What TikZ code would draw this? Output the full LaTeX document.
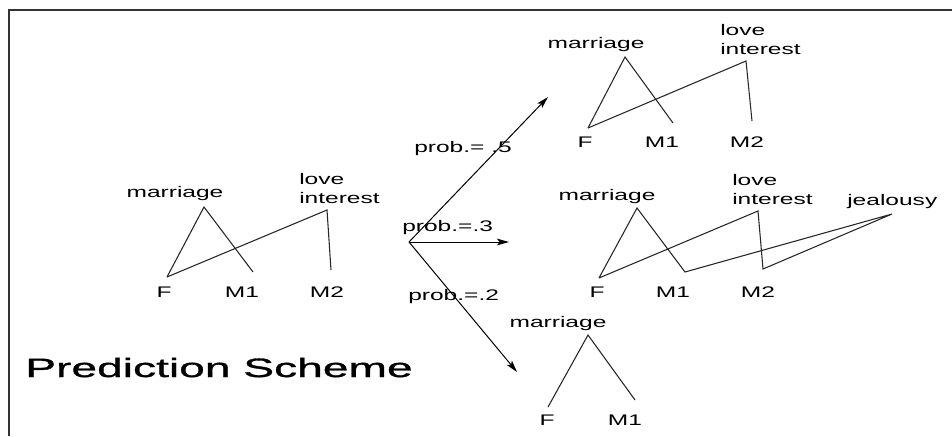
\documentclass[tikz,border=0pt]{standalone}
\usepackage{fontspec}
\newfontfamily\lblfont{Liberation Sans}[FakeStretch=1.6]
\newfontfamily\titlefont{Liberation Sans}[FakeStretch=1.74,FakeBold=1.2]
\usetikzlibrary{arrows.meta}
\tikzstyle{lbl} = [font=\lblfont\fontsize{11.5}{14}\selectfont, inner sep=0pt]
\tikzstyle{link} = [draw=black!85, line width=0.8pt]

\begin{document}
\begin{tikzpicture}[x=0.75pt,y=-0.75pt,
                    >={Stealth[length=9pt,width=5pt,inset=2pt]},prob/.style={->,line width=0.75pt}]
  \useasboundingbox (0,0) rectangle (952,436);
  \draw[black!80, line width=1.2pt] (952,10) -- (9,10) -- (9,436);

  % current relations
  \node[lbl,anchor=base]      (m0)  at (175,197) {marriage};
  \node[lbl,anchor=base west] (lo0) at (299,184) {love};
  \node[lbl,anchor=base west] (in0) at (299,203) {interest};
  \node[lbl,anchor=base] (f0)  at (164,297) {F};
  \node[lbl,anchor=base] (a0)  at (242,297) {M1};
  \node[lbl,anchor=base] (b0)  at (327,297) {M2};
  \coordinate (m0t) at (204,207);
  \coordinate (l0t) at (327,210);
  \coordinate (f0t) at (167,277);
  \coordinate (a0t) at (253,272);
  \coordinate (b0t) at (331,270);
  \path[link] (f0t) -- (m0t) -- (a0t);
  \path[link] (f0t) -- (l0t) -- (b0t);

  % branches
  \coordinate (o) at (409,242);
  \coordinate (up) at (548,97);
  \coordinate (mid) at (509,242);
  \coordinate (dn) at (517,372);
  \draw[prob] (o) -- (up);
  \draw[prob] (o) -- (mid);
  \draw[prob] (o) -- (dn);
  \node[lbl,anchor=base west] (p5) at (414,152) {prob.= .5};
  \node[lbl,anchor=base west] (p3) at (402,231) {prob.=.3};
  \node[lbl,anchor=base west] (p2) at (408,300) {prob.=.2};

  % prob .5
  \node[lbl,anchor=base]      (m1)  at (596,48) {marriage};
  \node[lbl,anchor=base west] (lo1) at (720,35) {love};
  \node[lbl,anchor=base west] (in1) at (720,54) {interest};
  \node[lbl,anchor=base] (f1)  at (585,147) {F};
  \node[lbl,anchor=base] (a1)  at (662,147) {M1};
  \node[lbl,anchor=base] (b1)  at (747,147) {M2};
  \coordinate (m1t) at (625,57);
  \coordinate (l1t) at (746,61);
  \coordinate (f1t) at (588,128);
  \coordinate (a1t) at (673,123);
  \coordinate (b1t) at (752,121);
  \path[link] (f1t) -- (m1t) -- (a1t);
  \path[link] (f1t) -- (l1t) -- (b1t);

  % prob .3
  \node[lbl,anchor=base]      (m2)  at (607,200) {marriage};
  \node[lbl,anchor=base west] (lo2) at (732,185) {love};
  \node[lbl,anchor=base west] (in2) at (732,204) {interest};
  \node[lbl,anchor=base west] (j2)  at (847,205) {jealousy};
  \node[lbl,anchor=base] (f2)  at (597,297) {F};
  \node[lbl,anchor=base] (a2)  at (673,297) {M1};
  \node[lbl,anchor=base] (b2)  at (758,297) {M2};
  \coordinate (m2t) at (637,208);
  \coordinate (l2t) at (758,211);
  \coordinate (j2t) at (892,214);
  \coordinate (f2t) at (599,278);
  \coordinate (a2t) at (685,272);
  \coordinate (b2t) at (763,269);
  \path[link] (f2t) -- (m2t) -- (a2t) -- (j2t) -- (b2t) -- (l2t) -- (f2t);

  % prob .2
  \node[lbl,anchor=base] (m3)  at (558,327) {marriage};
  \node[lbl,anchor=base] (f3)  at (547,425) {F};
  \node[lbl,anchor=base] (a3)  at (625,425) {M1};
  \coordinate (m3t) at (588,335);
  \coordinate (f3t) at (548,407);
  \coordinate (a3t) at (635,400);
  \path[link] (f3t) -- (m3t) -- (a3t);

  \node[anchor=base west,inner sep=0pt,font=\titlefont\fontsize{19.9}{24}\selectfont]
    (title) at (25,377) {Prediction Scheme};
\end{tikzpicture}
\end{document}
